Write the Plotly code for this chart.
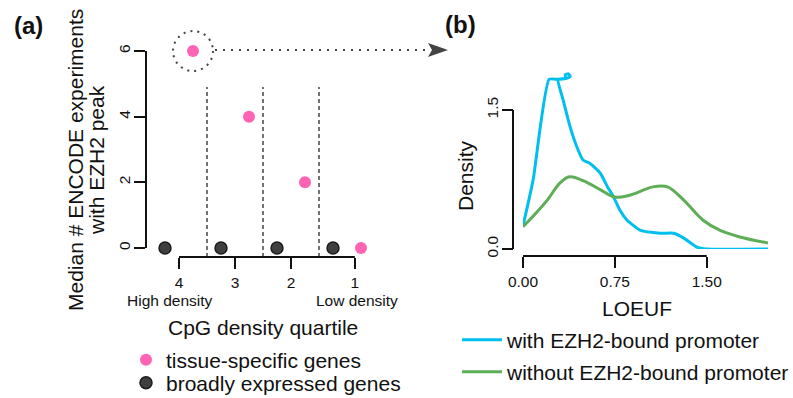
import plotly.graph_objects as go

# ---------------- data ----------------
quartile_labels = ["4", "3", "2", "1"]
quartile_pos = [0, 1, 2, 3]
quartile_tick_pos = [0, 1, 2, 3.14]
tissue_specific = [6, 4, 2, 0]
broadly_expressed = [0, 0, 0, 0]

loeuf_with_x = [0.00, 0.082, 0.213, 0.286, 0.35, 0.385, 0.37, 0.345, 0.345, 0.286,
                0.327, 0.384, 0.44, 0.49, 0.55, 0.63, 0.69, 0.74, 0.79, 0.85,
                0.96, 1.12, 1.23, 1.31, 1.42, 1.50, 2.00]
loeuf_with_y = [0.25, 0.74, 1.83, 1.83, 1.84, 1.86, 1.89, 1.88, 1.84, 1.83,
                1.61, 1.32, 1.10, 0.96, 0.92, 0.82, 0.67, 0.56, 0.42, 0.31,
                0.20, 0.17, 0.17, 0.12, 0.02, 0.00, 0.00]
loeuf_without_x = [0.00, 0.08, 0.20, 0.30, 0.38, 0.52, 0.63, 0.75, 0.87, 1.06,
                   1.18, 1.31, 1.47, 1.61, 1.77, 2.00]
loeuf_without_y = [0.24, 0.35, 0.53, 0.71, 0.78, 0.72, 0.64, 0.56, 0.58, 0.67,
                   0.67, 0.53, 0.31, 0.20, 0.13, 0.065]
loeuf_ticks = [0, 0.75, 1.5]
loeuf_ticktext = ["0.00", "0.75", "1.50"]
density_ticks = [0, 1.5]
density_ticktext = ["0.0", "1.5"]

# ---------------- layout helpers ----------------
W, H = 793, 398
FONT = "Liberation Sans, Arial, Helvetica, sans-serif"
PINK = "#FF63B4"
DARK = "#3f3f3f"
BLUE = "#00BFEF"
GREEN = "#5DAE56"


def PX(x):
    return x / W


def PY(y):
    return 1 - y / H


# panel a axes geometry (pixels): x pixel = 179 + 56 * x
A_X0, A_X1 = 155, 375
A_XR = [(155 - 179) / 56, (375 - 179) / 56]
A_Y0, A_Y1 = 248, 51
A_YR = [0, 6]
# panel b axes geometry (pixels)
B_X0, B_X1 = 523, 768
B_XR = [0, 2.0]
B_Y0, B_Y1 = 249, 60
B_YR = [0, (249 - 60) / 92.7]


def a_px(x):
    return A_X0 + (x - A_XR[0]) / (A_XR[1] - A_XR[0]) * (A_X1 - A_X0)


def a_py(y):
    return A_Y0 - (y - A_YR[0]) / (A_YR[1] - A_YR[0]) * (A_Y0 - A_Y1)


off = 0.25
fig = go.Figure()

fig.add_trace(go.Scatter(
    x=[p + off for p in quartile_pos], y=tissue_specific, mode="markers",
    name="tissue-specific genes", legend="legend",
    marker=dict(color=PINK, size=12, line=dict(width=0)),
    cliponaxis=False, xaxis="x", yaxis="y"))
fig.add_trace(go.Scatter(
    x=[p - off for p in quartile_pos], y=broadly_expressed, mode="markers",
    name="broadly expressed genes", legend="legend2",
    marker=dict(color=DARK, size=12, line=dict(width=1.5, color="#1c1c1c")),
    cliponaxis=False, xaxis="x", yaxis="y"))

fig.add_trace(go.Scatter(
    x=loeuf_with_x, y=loeuf_with_y, mode="lines", name="with EZH2-bound promoter",
    legend="legend3", line=dict(color=BLUE, width=3, shape="spline", smoothing=0.5),
    xaxis="x2", yaxis="y2"))
fig.add_trace(go.Scatter(
    x=loeuf_without_x, y=loeuf_without_y, mode="lines", name="without EZH2-bound promoter",
    legend="legend4", line=dict(color=GREEN, width=3, shape="spline", smoothing=1.0),
    xaxis="x2", yaxis="y2"))

tickfont = dict(family=FONT, size=15.5, color="#111")
common = dict(showgrid=False, zeroline=False, ticks="outside", ticklen=11, tickwidth=2,
              tickcolor="#111", tickfont=tickfont, fixedrange=True, automargin=False)

shapes = []
# group separators (panel a)
for i in range(len(quartile_pos) - 1):
    xm = (quartile_pos[i] + quartile_pos[i + 1]) / 2
    shapes.append(dict(type="line", xref="x", yref="paper", x0=xm, x1=xm,
                       y0=PY(257), y1=PY(87), line=dict(color="#444", width=1.5, dash="4px,3px")))
# R-style x axis line for panel a (spans first to last tick)
shapes.append(dict(type="line", xref="x", yref="paper", x0=quartile_tick_pos[0], x1=quartile_tick_pos[-1],
                   y0=PY(257), y1=PY(257), line=dict(color="#111", width=2)))
# dotted circle round the top tissue-specific point
cx, cy = a_px(quartile_pos[0] + off), a_py(tissue_specific[0])
R = 20
shapes.append(dict(type="circle", xref="paper", yref="paper",
                   x0=PX(cx - R), x1=PX(cx + R), y0=PY(cy + R), y1=PY(cy - R),
                   line=dict(color="#444", width=2, dash="2px,5px")))
# dotted arrow towards panel b
shapes.append(dict(type="line", xref="paper", yref="paper",
                   x0=PX(cx + R + 2), x1=PX(430), y0=PY(cy - 1), y1=PY(cy - 1),
                   line=dict(color="#444", width=2, dash="2px,6px")))
ay = cy - 1
shapes.append(dict(type="path", xref="paper", yref="paper",
                   path=f"M{PX(428)},{PY(ay - 7)} L{PX(448)},{PY(ay)} L{PX(428)},{PY(ay + 7)} L{PX(432)},{PY(ay)} Z",
                   fillcolor="#444", line=dict(width=0)))
# R-style axis lines for panel b
shapes.append(dict(type="line", xref="paper", yref="y2", x0=PX(513), x1=PX(513),
                   y0=density_ticks[0], y1=density_ticks[-1], line=dict(color="#111", width=2)))
shapes.append(dict(type="line", xref="x2", yref="paper", x0=loeuf_ticks[0], x1=loeuf_ticks[-1],
                   y0=PY(256), y1=PY(256), line=dict(color="#111", width=2)))

ann = []


def text(x, y, s, size=21, angle=0, bold=False, xanchor="center"):
    ann.append(dict(x=PX(x), y=PY(y), xref="paper", yref="paper", text=f"<b>{s}</b>" if bold else s,
                    showarrow=False, textangle=angle, xanchor=xanchor, yanchor="middle",
                    font=dict(family=FONT, size=size, color="#111")))


text(28, 26, "(a)", size=24, bold=True)
text(461, 24, "(b)", size=24, bold=True)
text(75, 160, "Median # ENCODE experiments", angle=-90)
text(96, 160, "with EZH2 peak", angle=-90)
text(263, 327, "CpG density quartile")
text(170, 300, "High density", size=15.5)
text(357, 300, "Low density", size=15.5)
text(465, 176, "Density", angle=-90)
text(637, 308, "LOEUF")

legfont = dict(family=FONT, size=21, color="#111")


def leg(x, y, **kw):
    d = dict(x=PX(x), y=PY(y), xanchor="left", yanchor="middle", bgcolor="rgba(0,0,0,0)",
             borderwidth=0, font=legfont, itemclick=False, itemdoubleclick=False)
    d.update(kw)
    return d


fig.update_layout(
    width=W, height=H, autosize=False,
    margin=dict(l=0, r=0, t=0, b=0, pad=0, autoexpand=False),
    paper_bgcolor="white", plot_bgcolor="white",
    font=dict(family=FONT, color="#111"),
    showlegend=True,
    legend=leg(126, 360), legend2=leg(126, 383),
    legend3=leg(457, 340, itemwidth=40), legend4=leg(457, 372, itemwidth=40),
    xaxis=dict(domain=[PX(A_X0), PX(A_X1)], range=A_XR, anchor="free", position=PY(257),
               showline=False, tickvals=quartile_tick_pos, ticktext=quartile_labels,
               ticklabelstandoff=0, **common),
    yaxis=dict(domain=[PY(A_Y0), PY(A_Y1)], range=A_YR, anchor="free", position=PX(146),
               showline=True, linewidth=2, linecolor="#111",
               tickvals=[0, 2, 4, 6], tickangle=-90, ticklabelstandoff=-2, **common),
    xaxis2=dict(domain=[PX(B_X0), PX(B_X1)], range=B_XR, anchor="free", position=PY(256),
                showline=False, tickvals=loeuf_ticks, ticktext=loeuf_ticktext,
                ticklabelstandoff=0, **common),
    yaxis2=dict(domain=[PY(B_Y0), PY(B_Y1)], range=B_YR, anchor="free", position=PX(513),
                showline=False, tickvals=density_ticks, ticktext=density_ticktext,
                tickangle=-90, ticklabelstandoff=-2, **common),
    shapes=shapes, annotations=ann,
)

fig.write_html("out.html", config={"displayModeBar": False},
               post_script="document.body.style.margin='0';")
